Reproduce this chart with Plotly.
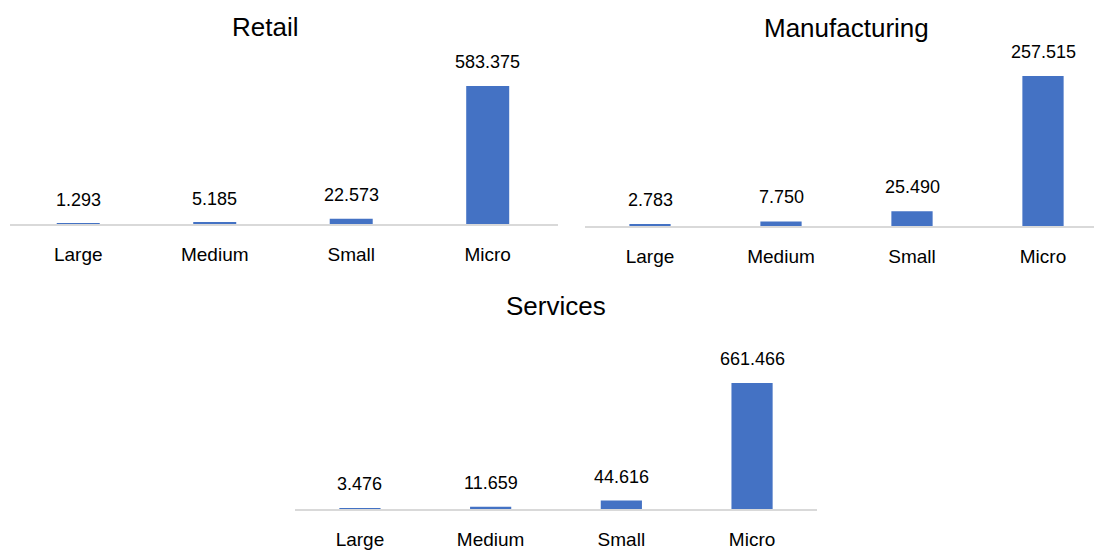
import plotly.graph_objects as go

# Number of firms by size class, per sector
categories = ["Large", "Medium", "Small", "Micro"]
retail = [1293, 5185, 22573, 583375]
manufacturing = [2783, 7750, 25490, 257515]
services = [3476, 11659, 44616, 661466]

W, H = 1094, 550
BAR_COLOR = "#4472C4"
AXIS_COLOR = "#D9D9D9"
FONT = "Liberation Sans, Arial, sans-serif"


def fx(px):
    return px / W


def fy(py):
    return 1 - py / H


def fmt(v):
    return f"{v:,}".replace(",", ".")


# panel layout: title, values, left/right px, baseline px, top px, px per unit, x range end, title pos
panels = [
    dict(title="Retail", values=retail, x0=10, x1=558, base=224, top=40,
         scale=138 / 583375, xend=3.515, tx=265, ty=27),
    dict(title="Manufacturing", values=manufacturing, x0=584.5, x1=1094, base=226, top=40,
         scale=150 / 257515, xend=-0.5 + (1094 - 584.5) / 131, tx=846, ty=28),
    dict(title="Services", values=services, x0=294.6, x1=817.4, base=509, top=320,
         scale=126 / 661466, xend=3.5, tx=556, ty=306),
]

fig = go.Figure()
annotations = []
layout_axes = {}

for i, p in enumerate(panels, start=1):
    xa = "x" if i == 1 else f"x{i}"
    ya = "y" if i == 1 else f"y{i}"
    fig.add_trace(go.Bar(
        x=categories, y=p["values"], xaxis=xa, yaxis=ya,
        marker=dict(color=BAR_COLOR, line=dict(width=0)),
        width=0.315, showlegend=False, hoverinfo="x+y",
    ))
    ymax = (p["base"] - p["top"]) / p["scale"]
    layout_axes["xaxis" if i == 1 else f"xaxis{i}"] = dict(
        domain=[fx(p["x0"]), fx(p["x1"])], anchor=ya,
        range=[-0.5, p["xend"]], autorange=False,
        showline=True, linecolor=AXIS_COLOR, linewidth=2,
        showgrid=False, zeroline=False, ticks="",
        tickfont=dict(family=FONT, size=19, color="#000000"),
        ticklabelstandoff=12, fixedrange=True,
    )
    layout_axes["yaxis" if i == 1 else f"yaxis{i}"] = dict(
        domain=[fy(p["base"]), fy(p["top"])], anchor=xa,
        range=[0, ymax], autorange=False, visible=False, fixedrange=True,
    )
    # value labels above each bar
    for c, v in zip(categories, p["values"]):
        annotations.append(dict(
            x=c, y=v, xref=xa, yref=ya, text=fmt(v), showarrow=False,
            yanchor="middle", yshift=24,
            font=dict(family=FONT, size=18, color="#000000"),
        ))
    # panel title
    annotations.append(dict(
        x=fx(p["tx"]), y=fy(p["ty"]), xref="paper", yref="paper",
        text=p["title"], showarrow=False, xanchor="center", yanchor="middle",
        font=dict(family=FONT, size=26, color="#000000"),
    ))

fig.update_layout(
    width=W, height=H,
    margin=dict(l=0, r=0, t=0, b=0),
    paper_bgcolor="#FFFFFF", plot_bgcolor="#FFFFFF",
    annotations=annotations,
    **layout_axes,
)

fig.write_html("out.html")
